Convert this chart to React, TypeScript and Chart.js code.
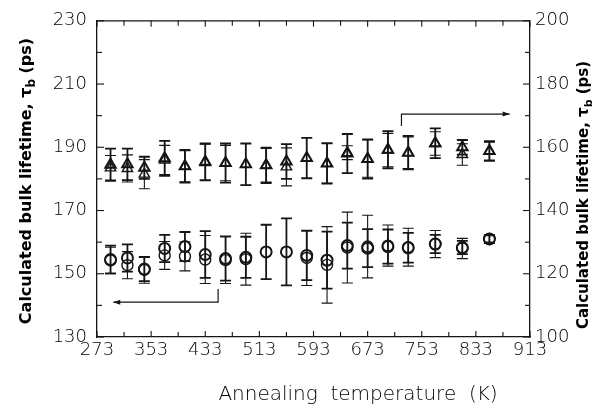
import React, { useEffect, useRef } from "react";
import { Chart, registerables } from "chart.js";

Chart.register(...registerables);

// Annealing temperatures (K)
const temps = [293, 318, 343, 373, 403, 433, 463, 493, 523, 553, 583, 613, 643, 673, 703, 733, 773, 813, 853];

// Circles (left axis, ps): two overlapping measurement sets
const circleA = [154.5, 155.0, 151.5, 158.0, 158.6, 156.1, 154.8, 155.2, 156.9, 156.9, 155.8, 154.3, 158.9, 158.1, 158.6, 158.2, 159.4, 158.3, 161.0];
const circleAErr = [4.4, 4.3, 3.8, 4.3, 4.6, 7.4, 7.0, 6.5, 8.6, 10.6, 7.8, 9.0, 7.3, 6.0, 5.4, 4.7, 2.9, 2.1, 1.3];
const circleB = [154.2, 152.7, 151.2, 155.8, 155.5, 154.5, 154.3, 154.6, null, null, 155.0, 152.8, 158.3, 158.6, 158.9, 158.4, 159.4, 158.0, 161.0];
const circleBErr = [4.2, 4.3, 4.2, 4.4, 4.6, 7.6, 7.4, 8.2, 0, 0, 8.7, 12.1, 11.2, 9.9, 6.5, 6.0, 4.3, 3.2, 1.0];

// Triangles (right axis, ps): two overlapping measurement sets
const triA = [154.5, 154.6, 153.5, 156.5, 154.0, 155.4, 155.0, 154.6, 154.3, 155.5, 156.6, 154.9, 158.0, 156.3, 159.2, 158.3, 161.3, 160.0, 158.8];
const triAErr = [5.1, 5.0, 3.5, 5.5, 5.2, 5.8, 6.2, 6.6, 5.6, 5.5, 6.4, 6.4, 6.2, 6.2, 5.9, 5.3, 4.7, 2.3, 3.1];
const triB = [153.5, 153.3, 151.5, 156.0, 154.0, 155.2, 155.0, null, 154.3, 153.8, null, 154.9, 158.3, 156.4, 159.1, 158.3, 161.2, 157.7, 158.8];
const triBErr = [3.9, 4.3, 4.6, 4.6, 4.9, 5.8, 5.6, 0, 5.3, 6.0, 0, 6.2, 2.2, 5.9, 5.3, 5.0, 3.7, 3.4, 2.8];

// Arrows (which axis each set belongs to)
const arrowLeftX = [452, 452, 297];
const arrowLeftY = [145.2, 141.0, 141.0];
const arrowRightX = [723, 723, 883];
const arrowRightY = [166.7, 170.5, 170.5];

// Tick values
const xTickLabels = [273, 353, 433, 513, 593, 673, 753, 833, 913];
const xMinorTicks = [273, 313, 353, 393, 433, 473, 513, 553, 593, 633, 673, 713, 753, 793, 833, 873, 913];
const leftTickLabels = [130, 150, 170, 190, 210, 230];
const leftMinorTicks = [130, 140, 150, 160, 170, 180, 190, 200, 210, 220, 230];
const rightTickLabels = [100, 120, 140, 160, 180, 200];
const rightMinorTicks = [100, 110, 120, 130, 140, 150, 160, 170, 180, 190, 200];

const xTitle = "Annealing  temperature  (K)";
const yTitleMain = "Calculated bulk lifetime, \u03C4";
const yTitleSub = "b";
const yTitleEnd = " (ps)";

const INK = "#151515";
const TEXT = "#000";
const TICK_FONT = { family: "'DejaVu Sans', sans-serif", size: 18, weight: "200" as any };

function toPoints(xs: number[], ys: (number | null)[]) {
  return xs.map((x, i) => ({ x, y: ys[i] })).filter((p) => p.y !== null);
}

const errorBarPlugin = {
  id: "errorBars",
  beforeDatasetsDraw(chart: any) {
    const { ctx, scales } = chart;
    const x = scales.x;
    const draw = (vals: (number | null)[], errs: number[], axis: any, lw: number) => {
      ctx.save();
      ctx.strokeStyle = INK;
      ctx.lineWidth = lw;
      vals.forEach((v, i) => {
        if (v === null || !errs[i]) return;
        const px = x.getPixelForValue(temps[i]);
        const top = axis.getPixelForValue(v + errs[i]);
        const bot = axis.getPixelForValue(v - errs[i]);
        ctx.beginPath();
        ctx.moveTo(px, top);
        ctx.lineTo(px, bot);
        ctx.moveTo(px - 5.5, top);
        ctx.lineTo(px + 5.5, top);
        ctx.moveTo(px - 5.5, bot);
        ctx.lineTo(px + 5.5, bot);
        ctx.stroke();
      });
      ctx.restore();
    };
    draw(circleA, circleAErr, scales.y, 1.8);
    draw(circleB, circleBErr, scales.y, 1.1);
    draw(triA, triAErr, scales.y1, 1.8);
    draw(triB, triBErr, scales.y1, 1.1);
  },
};

const framePlugin = {
  id: "frame",
  afterDraw(chart: any) {
    const { ctx, chartArea, scales } = chart;
    const { left, right, top, bottom } = chartArea;
    ctx.save();
    ctx.strokeStyle = INK;
    ctx.lineWidth = 1.3;
    ctx.beginPath();
    ctx.moveTo(left, top);
    ctx.lineTo(right, top);
    ctx.stroke();
    ctx.lineWidth = 1.1;
    xMinorTicks.forEach((v) => {
      const px = scales.x.getPixelForValue(v);
      const len = xTickLabels.includes(v) ? 6 : 5;
      ctx.beginPath();
      ctx.moveTo(px, bottom);
      ctx.lineTo(px, bottom - len);
      ctx.moveTo(px, top);
      ctx.lineTo(px, top + len);
      ctx.stroke();
    });
    leftMinorTicks.forEach((v) => {
      const py = scales.y.getPixelForValue(v);
      const len = leftTickLabels.includes(v) ? 7 : 5;
      ctx.beginPath();
      ctx.moveTo(left, py);
      ctx.lineTo(left + len, py);
      ctx.stroke();
    });
    rightMinorTicks.forEach((v) => {
      const py = scales.y1.getPixelForValue(v);
      const len = rightTickLabels.includes(v) ? 7 : 5;
      ctx.beginPath();
      ctx.moveTo(right, py);
      ctx.lineTo(right - len, py);
      ctx.stroke();
    });

    const head = (xs: number[], ys: number[], axis: any) => {
      const n = xs.length;
      const x1 = scales.x.getPixelForValue(xs[n - 1]);
      const y1 = axis.getPixelForValue(ys[n - 1]);
      const x0 = scales.x.getPixelForValue(xs[n - 2]);
      const y0 = axis.getPixelForValue(ys[n - 2]);
      const a = Math.atan2(y1 - y0, x1 - x0);
      ctx.fillStyle = INK;
      ctx.beginPath();
      ctx.moveTo(x1, y1);
      ctx.lineTo(x1 - 7 * Math.cos(a) + 2.5 * Math.sin(a), y1 - 7 * Math.sin(a) - 2.5 * Math.cos(a));
      ctx.lineTo(x1 - 7 * Math.cos(a) - 2.5 * Math.sin(a), y1 - 7 * Math.sin(a) + 2.5 * Math.cos(a));
      ctx.closePath();
      ctx.fill();
    };
    head(arrowLeftX, arrowLeftY, scales.y);
    head(arrowRightX, arrowRightY, scales.y1);

    ctx.fillStyle = TEXT;
    ctx.font = "200 20px 'DejaVu Sans', sans-serif";
    ctx.textAlign = "center";
    ctx.textBaseline = "alphabetic";
    ctx.fillText(xTitle, 358, 400);

    const drawYTitle = (cx: number, cy: number, size: number) => {
      ctx.save();
      ctx.translate(cx, cy);
      ctx.rotate(-Math.PI / 2);
      const mainFont = `bold ${size}px 'DejaVu Sans', sans-serif`;
      const subFont = `bold ${Math.round(size * 0.72)}px 'DejaVu Sans', sans-serif`;
      ctx.font = mainFont;
      const w1 = ctx.measureText(yTitleMain).width;
      const w3 = ctx.measureText(yTitleEnd).width;
      ctx.font = subFont;
      const w2 = ctx.measureText(yTitleSub).width;
      const total = w1 + w2 + w3;
      let xx = -total / 2;
      ctx.textAlign = "left";
      ctx.textBaseline = "middle";
      ctx.font = mainFont;
      ctx.fillText(yTitleMain, xx, 0);
      xx += w1;
      ctx.font = subFont;
      ctx.fillText(yTitleSub, xx, 5);
      xx += w2;
      ctx.font = mainFont;
      ctx.fillText(yTitleEnd, xx, 0);
      ctx.restore();
    };
    drawYTitle(27, 181, 16);
    drawYTitle(584, 195, 15);
    ctx.restore();
  },
};

export default function App() {
  const ref = useRef<HTMLCanvasElement>(null);
  useEffect(() => {
    if (!ref.current) return;
    const chart = new Chart(ref.current, {
      type: "scatter",
      data: {
        datasets: [
          {
            label: "arrowLeft",
            data: toPoints(arrowLeftX, arrowLeftY),
            yAxisID: "y",
            showLine: true,
            borderColor: INK,
            borderWidth: 1.2,
            pointRadius: 0,
          } as any,
          {
            label: "arrowRight",
            data: toPoints(arrowRightX, arrowRightY),
            yAxisID: "y1",
            showLine: true,
            borderColor: INK,
            borderWidth: 1.2,
            pointRadius: 0,
          } as any,
          {
            label: "circleA",
            data: toPoints(temps, circleA),
            yAxisID: "y",
            pointStyle: "circle",
            pointRadius: 5.5,
            borderColor: INK,
            borderWidth: 2,
            backgroundColor: "rgba(0,0,0,0)",
          },
          {
            label: "circleB",
            data: toPoints(temps, circleB),
            yAxisID: "y",
            pointStyle: "circle",
            pointRadius: 5.5,
            borderColor: INK,
            borderWidth: 1.4,
            backgroundColor: "rgba(0,0,0,0)",
          },
          {
            label: "triA",
            data: toPoints(temps, triA),
            yAxisID: "y1",
            pointStyle: "triangle",
            pointRadius: 6,
            borderColor: INK,
            borderWidth: 2,
            backgroundColor: "rgba(0,0,0,0)",
          },
          {
            label: "triB",
            data: toPoints(temps, triB),
            yAxisID: "y1",
            pointStyle: "triangle",
            pointRadius: 6,
            borderColor: INK,
            borderWidth: 1.4,
            backgroundColor: "rgba(0,0,0,0)",
          },
        ],
      },
      options: {
        responsive: false,
        animation: false,
        layout: { padding: { top: 16, left: 0, right: 0, bottom: 0 } },
        plugins: { legend: { display: false }, tooltip: { enabled: false } },
        scales: {
          x: {
            type: "linear",
            position: "bottom",
            min: 273,
            max: 913,
            grid: { display: false, drawTicks: false },
            border: { display: true, color: INK, width: 1.3 },
            ticks: { font: TICK_FONT, color: TEXT, padding: 3, autoSkip: false, maxRotation: 0 },
            afterBuildTicks: (s: any) => {
              s.ticks = xTickLabels.map((v) => ({ value: v }));
            },
            afterFit: (s: any) => {
              s.height = 68;
            },
          },
          y: {
            type: "linear",
            position: "left",
            min: 130,
            max: 230,
            grid: { display: false, drawTicks: false },
            border: { display: true, color: INK, width: 1.3 },
            ticks: { font: TICK_FONT, color: TEXT, padding: 10 },
            afterBuildTicks: (s: any) => {
              s.ticks = leftTickLabels.map((v) => ({ value: v }));
            },
            afterFit: (s: any) => {
              s.width = 97;
            },
          },
          y1: {
            type: "linear",
            position: "right",
            min: 100,
            max: 200,
            grid: { display: false, drawTicks: false },
            border: { display: true, color: INK, width: 1.3 },
            ticks: { font: TICK_FONT, color: TEXT, padding: 5 },
            afterBuildTicks: (s: any) => {
              s.ticks = rightTickLabels.map((v) => ({ value: v }));
            },
            afterFit: (s: any) => {
              s.width = 83;
            },
          },
        },
      } as any,
      plugins: [errorBarPlugin, framePlugin],
    });
    return () => chart.destroy();
  }, []);

  return (
    <div style={{ position: "absolute", left: 0, top: 0, width: 613, height: 405, background: "#fff" }}>
      <canvas ref={ref} width={613} height={405} />
    </div>
  );
}
